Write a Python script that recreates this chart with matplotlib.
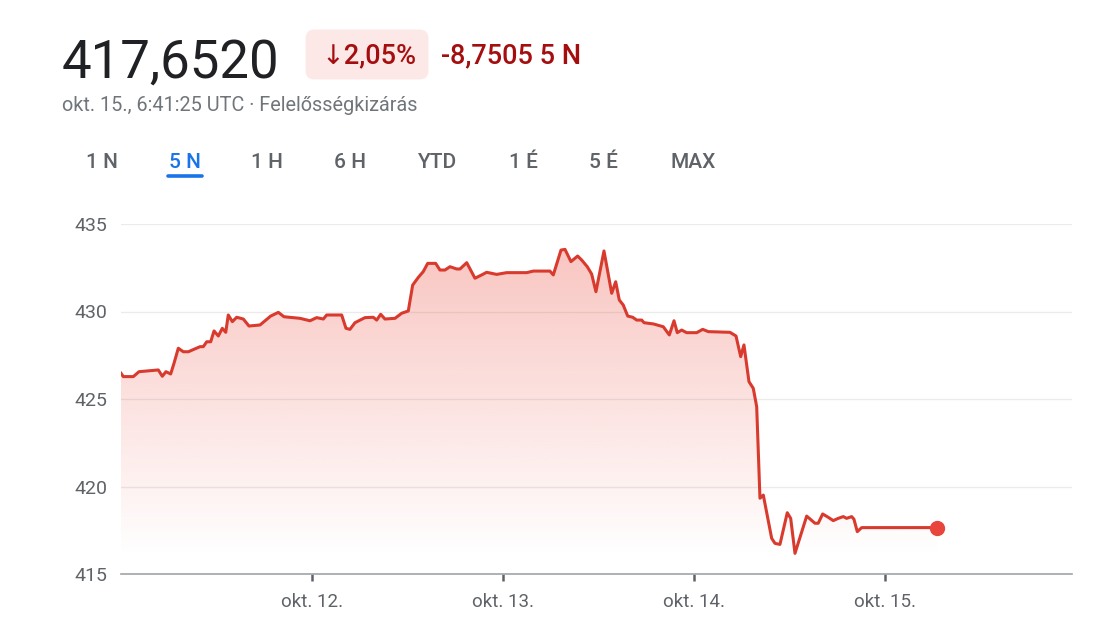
import numpy as np
import matplotlib
matplotlib.use("Agg")
import matplotlib.pyplot as plt
from matplotlib.patches import Polygon, FancyBboxPatch

plt.rcParams["font.family"] = ["Roboto", "DejaVu Sans"]

# adatok: órák okt. 11. 0:00 óta, árfolyam
orak = [0.0, 0.29, 1.55, 2.26, 4.69, 5.19, 5.65, 6.24, 6.66, 7.20, 7.83, 8.46, 9.93, 10.34,
        10.77, 11.27, 11.69, 12.23, 12.73, 13.16, 13.48, 13.99, 14.54, 15.37, 16.08, 17.47,
        18.81, 19.77, 20.48, 22.49, 23.75, 24.59, 25.42, 25.85, 27.73, 28.27, 28.77, 29.40,
        30.66, 31.70, 32.13, 32.63, 33.17, 34.43, 35.27, 36.10, 36.65, 37.36, 37.98, 38.54,
        39.54, 40.08, 40.71, 41.34, 42.18, 42.60, 43.44, 44.48, 45.32, 45.95, 47.21, 48.46,
        50.98, 51.81, 53.90, 54.32, 55.29, 55.79, 56.54, 57.38, 57.89, 58.59, 59.14, 59.68,
        60.69, 61.66, 62.16, 62.61, 63.11, 63.67, 64.30, 64.80, 65.43, 65.72, 66.89, 68.14,
        68.90, 69.49, 69.90, 70.45, 71.08, 72.34, 73.09, 73.80, 76.52, 77.28, 77.87, 78.28,
        78.91, 79.45, 79.88, 80.29, 80.71, 81.76, 82.18, 82.80, 83.72, 84.15, 84.69, 86.16,
        87.20, 87.61, 88.17, 88.87, 89.50, 90.13, 90.76, 91.18, 91.81, 92.10, 92.52, 93.07,
        102.49]
arfolyam = [426.47, 426.28, 426.28, 426.56, 426.66, 426.30, 426.56, 426.43, 427.04, 427.90,
            427.70, 427.70, 427.99, 427.99, 428.27, 428.27, 428.89, 428.60, 429.04, 428.81,
            429.80, 429.42, 429.67, 429.57, 429.17, 429.23, 429.74, 429.95, 429.70, 429.61,
            429.47, 429.65, 429.57, 429.80, 429.80, 429.04, 428.98, 429.36, 429.65, 429.67,
            429.51, 429.84, 429.57, 429.61, 429.90, 430.03, 431.51, 431.95, 432.28, 432.75,
            432.75, 432.37, 432.37, 432.56, 432.43, 432.43, 432.79, 431.90, 432.09, 432.24,
            432.12, 432.22, 432.22, 432.31, 432.31, 432.09, 433.51, 433.55, 432.85, 433.17,
            432.94, 432.56, 432.14, 431.13, 433.46, 431.04, 431.70, 430.66, 430.37, 429.74,
            429.67, 429.51, 429.51, 429.36, 429.29, 429.13, 428.66, 429.47, 428.79, 428.94,
            428.79, 428.79, 428.98, 428.85, 428.81, 428.60, 427.42, 428.09, 425.99, 425.61,
            424.56, 419.33, 419.51, 417.04, 416.75, 416.69, 418.50, 418.18, 416.18, 418.31,
            417.90, 417.90, 418.43, 418.24, 418.05, 418.18, 418.28, 418.18, 418.28, 418.13,
            417.42, 417.65, 417.652]

y_tickek = [415, 420, 425, 430, 435]
x_tick_orak = [24, 48, 72, 96]
x_tick_cimkek = ["okt. 12.", "okt. 13.", "okt. 14.", "okt. 15."]
fulek = ["1 N", "5 N", "1 H", "6 H", "YTD", "1 É", "5 É", "MAX"]
ful_x = [102, 185, 267, 350, 438, 523, 603, 693]

W, H = 1109, 624
fig = plt.figure(figsize=(W / 100, H / 100), dpi=100)
ax = fig.add_axes([121 / W, 1 - 574 / H, (1072 - 121) / W, (574 - 224) / H])

x = np.array(orak)
y = np.array(arfolyam)
piros = "#d93a2e"

ax.set_xlim(0, 119.5)
ax.set_ylim(415, 435)

# színátmenetes kitöltés
grad = np.zeros((256, 1, 4))
lev = np.linspace(415, 435, 256)
grad[:, 0, 0] = 234 / 255
grad[:, 0, 1] = 67 / 255
grad[:, 0, 2] = 53 / 255
grad[:, 0, 3] = np.clip((lev - 416) / 19 * 0.33, 0, 1)
im = ax.imshow(grad, extent=[0, 119.5, 415, 435], origin="lower", aspect="auto", zorder=1)
poly = Polygon(np.vstack([np.column_stack([x, y]), [[x[-1], 415], [x[0], 415]]]),
               closed=True, facecolor="none", edgecolor="none", transform=ax.transData)
ax.add_patch(poly)
im.set_clip_path(poly)

ax.plot(x, y, color=piros, lw=2.2, zorder=3, solid_joinstyle="round")
ax.plot(x[-1], y[-1], "o", color="#e8453c", ms=10, zorder=4, clip_on=False)

for v in y_tickek[1:]:
    ax.axhline(v, color="#ebebeb", lw=1, zorder=0)

for s in ["top", "right", "left"]:
    ax.spines[s].set_visible(False)
ax.spines["bottom"].set_color("#a0a4a8")
ax.spines["bottom"].set_linewidth(1.2)

ax.set_yticks(y_tickek)
ax.set_yticklabels([str(v) for v in y_tickek])
ax.set_xticks(x_tick_orak)
ax.set_xticklabels(x_tick_cimkek)
ax.tick_params(axis="y", length=0, pad=10, labelsize=14, labelcolor="#5f6368")
ax.tick_params(axis="x", length=5, width=1.8, color="#5f6368", pad=9,
               labelsize=13.5, labelcolor="#5f6368")

# fejléc
fig.text(62 / W, 1 - 78 / H, "417,6520", fontsize=38, color="#202124", va="baseline")
fig.patches.append(FancyBboxPatch((310 / W, 1 - 75 / H), (424 - 310) / W, (75 - 34) / H,
                                  boxstyle="round,pad=0.004,rounding_size=0.008",
                                  transform=fig.transFigure, facecolor="#fce8e6",
                                  edgecolor="none", mutation_aspect=W / H))
fig.text(321 / W, 1 - 63 / H, "↓2,05%", fontsize=19.5, color="#a50e0e", va="baseline",
         fontweight="medium")
fig.text(441 / W, 1 - 63 / H, "-8,7505 5 N", fontsize=19.5, color="#a50e0e", va="baseline",
         fontweight="medium")
fig.text(62 / W, 1 - 111 / H, "okt. 15., 6:41:25 UTC · Felelősségkizárás", fontsize=14.3,
         color="#70757a", va="baseline")

for f, fx in zip(fulek, ful_x):
    szin = "#1a73e8" if f == "5 N" else "#5f6368"
    fig.text(fx / W, 1 - 168 / H, f, fontsize=15, color=szin, ha="center", va="baseline",
             fontweight="medium")
fig.add_artist(plt.Line2D([168 / W, 202 / W], [1 - 176 / H, 1 - 176 / H], color="#1a73e8",
                          lw=2.6, solid_capstyle="round", transform=fig.transFigure))

fig.savefig("out.png", dpi=100, facecolor="white")
